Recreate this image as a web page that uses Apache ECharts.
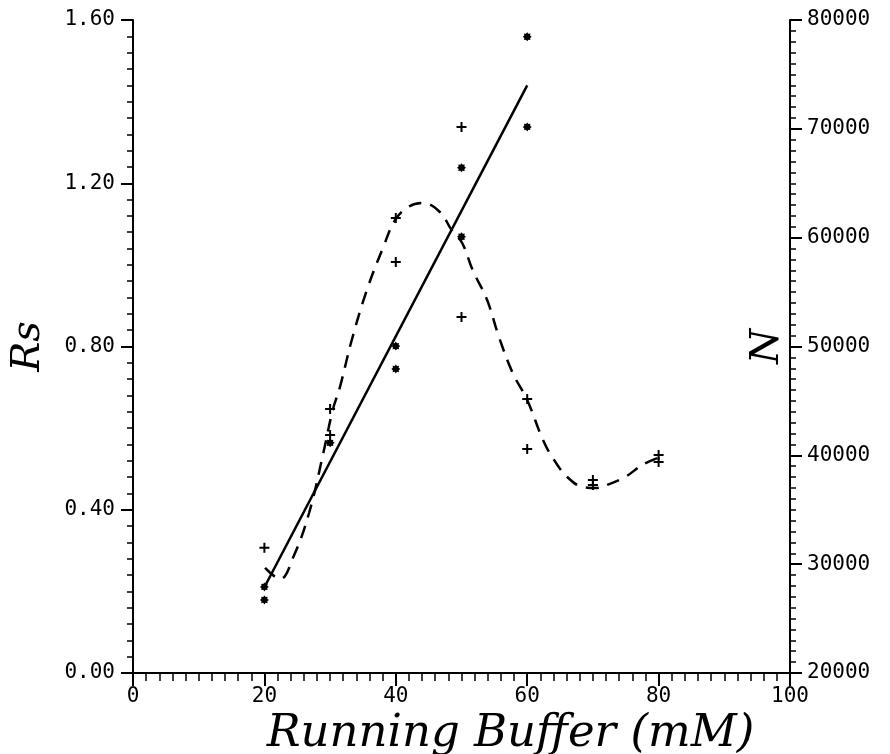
<!DOCTYPE html>
<html>
<head>
<meta charset="utf-8">
<title>Rs / N vs Running Buffer</title>
<script src="https://cdn.jsdelivr.net/npm/echarts@6/dist/echarts.min.js"></script>
<style>
  html, body { margin: 0; padding: 0; background: #fff; }
  #chart { width: 890px; height: 754px; }
</style>
</head>
<body>
<div id="chart"></div>
<script>
// Rs measurements (left axis), * markers
var rsPoints = [
  [20, 0.211], [20, 0.179],
  [30, 0.564],
  [40, 0.801], [40, 0.745],
  [50, 1.238], [50, 1.069],
  [60, 1.559], [60, 1.338]
]
// N measurements (right axis), + markers
var nPoints = [
  [20, 31500],
  [30, 44250], [30, 41870],
  [40, 61800], [40, 57760],
  [50, 70170], [50, 52710],
  [60, 45180], [60, 40580],
  [70, 37730], [70, 37270],
  [80, 40030], [80, 39390]
]
// straight line fit for Rs
var rsFit = [[20, 0.21], [60, 1.44]]
// dashed curve for N
var nCurve = [
  [20.1, 29650], [22.4, 28640], [24.4, 30660], [26.8, 34700], [29.0, 40300],
  [30.4, 44160], [31.5, 46280], [33.3, 50600], [35.6, 55190], [38.1, 59140],
  [39.9, 61620], [41.9, 62820], [44.1, 63180], [46.7, 62360], [48.5, 60700],
  [50.1, 59510], [51.7, 57030], [53.9, 54270], [55.7, 50870], [57.8, 47560],
  [60.0, 45080], [62.4, 41410], [63.9, 39750], [66.1, 38010], [68.5, 37090],
  [70.6, 37000], [72.1, 37270], [74.9, 38010], [77.5, 39110], [79.8, 39750]
]

var tickFont = 'DejaVu Sans Mono'
var titleFont = 'DejaVu Serif'

// small asterisk-like marker
function starPath(n, r1, r2) {
  var d = ''
  for (var i = 0; i < 2 * n; i++) {
    var r = i % 2 ? r2 : r1
    var a = Math.PI * i / n - Math.PI / 2
    d += (i ? 'L' : 'M') + (r * Math.cos(a)).toFixed(3) + ' ' + (r * Math.sin(a)).toFixed(3)
  }
  return 'path://' + d + 'Z'
}
var plusPath = 'path://M4 0H6V4H10V6H6V10H4V6H0V4H4Z'

function yAxisBase() {
  return {
    type: 'value',
    axisLine: { show: true, lineStyle: { color: '#000', width: 2 } },
    axisTick: { show: true, inside: false, length: 12, lineStyle: { color: '#000', width: 2 } },
    minorTick: { show: true, splitNumber: 10, length: 6, lineStyle: { color: '#000', width: 1.5 } },
    splitLine: { show: false },
    minorSplitLine: { show: false },
    axisLabel: { color: '#000', fontFamily: tickFont, fontSize: 21, margin: 18 },
    nameLocation: 'middle',
    nameRotate: 90,
    nameMoveOverlap: false,
    nameTextStyle: { color: '#000', fontFamily: titleFont, fontStyle: 'italic', fontSize: 40 }
  }
}

var myChart = echarts.init(document.getElementById('chart'))

var leftAxis = yAxisBase()
leftAxis.min = 0
leftAxis.max = 1.6
leftAxis.interval = 0.4
leftAxis.position = 'left'
leftAxis.name = 'Rs'
leftAxis.nameGap = 84
leftAxis.axisLabel.formatter = function (v) { return v.toFixed(2) }

var rightAxis = yAxisBase()
rightAxis.min = 20000
rightAxis.max = 80000
rightAxis.interval = 10000
rightAxis.position = 'right'
rightAxis.name = 'N'
rightAxis.nameGap = -42
rightAxis.axisLabel.margin = 17
rightAxis.axisLabel.formatter = function (v) { return String(v) }

var option = {
  backgroundColor: '#fff',
  animation: false,
  grid: { left: 133, right: 100, top: 20, bottom: 81, containLabel: false, outerBoundsMode: 'none' },
  xAxis: {
    type: 'value',
    min: 0,
    max: 100,
    interval: 20,
    axisLine: { show: true, onZero: false, lineStyle: { color: '#000', width: 2 } },
    axisTick: { show: true, inside: false, length: 13, lineStyle: { color: '#000', width: 2 } },
    minorTick: { show: true, splitNumber: 10, length: 8, lineStyle: { color: '#000', width: 1.5 } },
    splitLine: { show: false },
    axisLabel: { color: '#000', fontFamily: tickFont, fontSize: 21, margin: 13 },
    name: 'Running Buffer (mM)',
    nameLocation: 'middle',
    nameGap: 39,
    nameMoveOverlap: false,
    nameTextStyle: {
      color: '#000', fontFamily: titleFont, fontStyle: 'italic', fontSize: 45,
      padding: [0, 0, 0, 98]
    }
  },
  yAxis: [leftAxis, rightAxis],
  series: [
    {
      type: 'scatter',
      yAxisIndex: 0,
      symbol: starPath(8, 1, 0.7),
      symbolSize: 9,
      itemStyle: { color: '#000', opacity: 1 },
      data: rsPoints
    },
    {
      type: 'scatter',
      yAxisIndex: 1,
      symbol: plusPath,
      symbolSize: 10,
      itemStyle: { color: '#000', opacity: 1 },
      data: nPoints
    },
    {
      type: 'line',
      yAxisIndex: 0,
      showSymbol: false,
      lineStyle: { color: '#000', width: 2.5 },
      data: rsFit
    },
    {
      type: 'line',
      yAxisIndex: 1,
      showSymbol: false,
      smooth: 0.4,
      lineStyle: { color: '#000', width: 2.5, type: [13, 9] },
      data: nCurve
    }
  ]
}

myChart.setOption(option)
</script>
</body>
</html>
